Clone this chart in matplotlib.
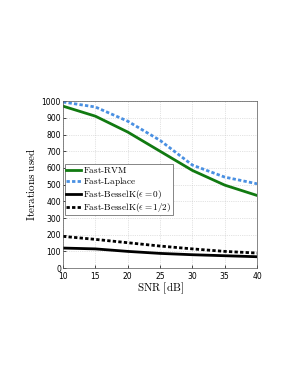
import matplotlib
matplotlib.use("Agg")
import matplotlib.pyplot as plt

plt.rcParams['mathtext.fontset'] = 'cm'

snr = [10, 15, 20, 25, 30, 35, 40]
rvm = [970, 910, 815, 700, 585, 497, 435]
laplace = [995, 965, 880, 765, 617, 545, 505]
bessel0 = [120, 115, 100, 88, 80, 74, 68]
bessel_half = [190, 172, 152, 132, 115, 100, 90]

xticks = [10, 15, 20, 25, 30, 35, 40]
yticks = [0, 100, 200, 300, 400, 500, 600, 700, 800, 900, 1000]

fig = plt.figure(figsize=(2.91, 3.76), dpi=100)
ax = fig.add_axes([0.2165, 0.287, 0.667, 0.444])

ax.plot(snr, rvm, color='#117a11', lw=2, label=r'$\mathrm{Fast\text{-}RVM}$')
ax.plot(snr, laplace, color='#4a90e2', lw=2, ls=(0, (1.2, 0.8)), label=r'$\mathrm{Fast\text{-}Laplace}$')
ax.plot(snr, bessel0, color='black', lw=2, label=r'$\mathrm{Fast\text{-}BesselK}(\epsilon=0)$')
ax.plot(snr, bessel_half, color='black', lw=2, ls=(0, (1.2, 0.8)), label=r'$\mathrm{Fast\text{-}BesselK}(\epsilon=1/2)$')

ax.set_xlim(10, 40)
ax.set_ylim(0, 1000)
ax.set_xticks(xticks)
ax.set_yticks(yticks)
ax.tick_params(labelsize=5.5, length=2, width=0.5, direction='in', pad=1.5)
ax.tick_params(axis='x', pad=2.5)
ax.grid(True, ls=':', lw=0.5, color='#c8c8c8')
for s in ax.spines.values():
    s.set_linewidth(0.5)
    s.set_color('#555555')

ax.set_xlabel(r'$\mathrm{SNR\ [dB]}$', fontsize=8, labelpad=0)
ax.set_ylabel(r'$\mathrm{Iterations\ used}$', fontsize=8, labelpad=3)

leg = ax.legend(loc='upper left', bbox_to_anchor=(0.01, 0.625), fontsize=6.6,
                handlelength=1.6, handletextpad=0.2, borderpad=0.15,
                labelspacing=0.0, borderaxespad=0.0, fancybox=False,
                framealpha=1, edgecolor='#555555')
leg.get_frame().set_linewidth(0.5)

fig.savefig("out.png", dpi=100)
